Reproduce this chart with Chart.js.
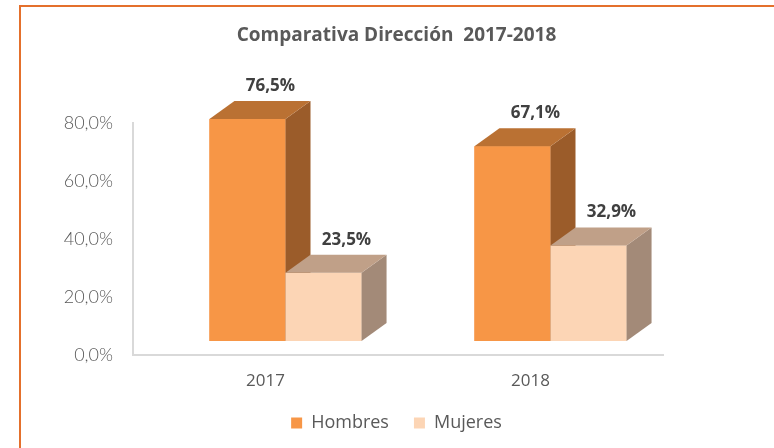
<!DOCTYPE html>
<html>
<head>
<meta charset="utf-8">
<script src="https://cdn.jsdelivr.net/npm/chart.js@4/dist/chart.umd.min.js"></script>
<style>
  html, body { margin: 0; padding: 0; background: #fff; overflow: hidden; }
  #frame { position: absolute; left: 19px; top: 5px; width: 800px; height: 500px;
           border-top: 2px solid #E4702C; border-left: 2px solid #E4702C; pointer-events: none; }
  canvas { position: absolute; left: 0; top: 0; }
</style>
</head>
<body>
<canvas id="chart" width="774" height="448"></canvas>
<div id="frame"></div>
<script>
// values
const years = ['2017', '2018'];
const hombres = [76.5, 67.1];
const mujeres = [23.5, 32.9];
const yTicks = [0, 20, 40, 60, 80];

function pct(v) {
    return v.toFixed(1).replace('.', ',') + '%';
}

// 3D look: shift the front faces, then add top and side faces
const depthX = 25, depthY = 18;
const shiftX = 20, shiftY = -14;

const faces = {
    Hombres: { top: '#BA7133', side: '#9B5C2A' },
    Mujeres: { top: '#C0A088', side: '#A38A78' }
};

const bars3d = {
    id: 'bars3d',
    beforeDatasetsDraw(chart) {
        chart.ctx.save();
        chart.ctx.translate(shiftX, shiftY);
    },
    afterDatasetsDraw(chart) {
        const ctx = chart.ctx;
        // redraw front faces in dataset order so each block covers the one to its left
        chart.data.datasets.forEach((ds, i) => {
            const col = faces[ds.label];
            chart.getDatasetMeta(i).data.forEach(bar => {
                bar.draw(ctx);
                const { x, y, base, width } = bar.getProps(['x', 'y', 'base', 'width'], true);
                const l = x - width / 2, r = x + width / 2;
                ctx.fillStyle = col.side;
                ctx.beginPath();
                ctx.moveTo(r, y);
                ctx.lineTo(r + depthX, y - depthY);
                ctx.lineTo(r + depthX, base - depthY);
                ctx.lineTo(r, base);
                ctx.closePath();
                ctx.fill();
                ctx.fillStyle = col.top;
                ctx.beginPath();
                ctx.moveTo(l, y);
                ctx.lineTo(l + depthX, y - depthY);
                ctx.lineTo(r + depthX, y - depthY);
                ctx.lineTo(r, y);
                ctx.closePath();
                ctx.fill();
            });
        });
        // value labels
        ctx.font = 'bold 17px "Open Sans"';
        ctx.fillStyle = '#404040';
        ctx.textAlign = 'center';
        ctx.textBaseline = 'middle';
        chart.data.datasets.forEach((ds, i) => {
            chart.getDatasetMeta(i).data.forEach((bar, j) => {
                ctx.fillText(pct(ds.data[j]), bar.x + 23, bar.y - depthY - 15);
            });
        });
        ctx.restore();
    }
};

new Chart(document.getElementById('chart'), {
    type: 'bar',
    data: {
        labels: years,
        datasets: [
            { label: 'Hombres', data: hombres, backgroundColor: '#F79646', clip: false },
            { label: 'Mujeres', data: mujeres, backgroundColor: '#FCD5B5', clip: false }
        ]
    },
    options: {
        responsive: false,
        animation: false,
        layout: { padding: { left: 19, right: 0, top: 0, bottom: 6 } },
        datasets: { bar: { categoryPercentage: 0.574, barPercentage: 1 } },
        scales: {
            x: {
                grid: { display: false, drawTicks: false },
                border: { color: '#D9D9D9', width: 2 },
                ticks: { padding: 16, color: '#595959', font: { family: 'Open Sans', size: 17 } },
                afterFit(scale) { scale.height = 34; }
            },
            y: {
                min: yTicks[0],
                max: yTicks[yTicks.length - 1],
                afterBuildTicks(scale) { scale.ticks = yTicks.map(v => ({ value: v })); },
                grid: { display: false, drawTicks: false },
                border: { color: '#D9D9D9', width: 2 },
                ticks: {
                    padding: 20,
                    color: '#595959',
                    font: { family: 'Lato', size: 18, weight: 300 },
                    callback: v => pct(v)
                },
                afterFit(scale) { scale.width = 114; }
            },
            // empty right-hand space of the plot
            yRight: {
                position: 'right',
                display: true,
                grid: { display: false, drawTicks: false },
                border: { display: false },
                ticks: { display: false },
                afterFit(scale) { scale.width = 111; }
            }
        },
        plugins: {
            title: {
                display: true,
                text: 'Comparativa Dirección  2017-2018',
                color: '#595959',
                font: { family: 'Open Sans', size: 19, weight: 'bold' },
                padding: { top: 24, bottom: 76 }
            },
            legend: {
                position: 'bottom',
                labels: {
                    boxWidth: 11,
                    boxHeight: 11,
                    padding: 25,
                    color: '#595959',
                    font: { family: 'Open Sans', size: 18 }
                }
            },
            tooltip: { enabled: false }
        }
    },
    plugins: [bars3d]
});
</script>
</body>
</html>
